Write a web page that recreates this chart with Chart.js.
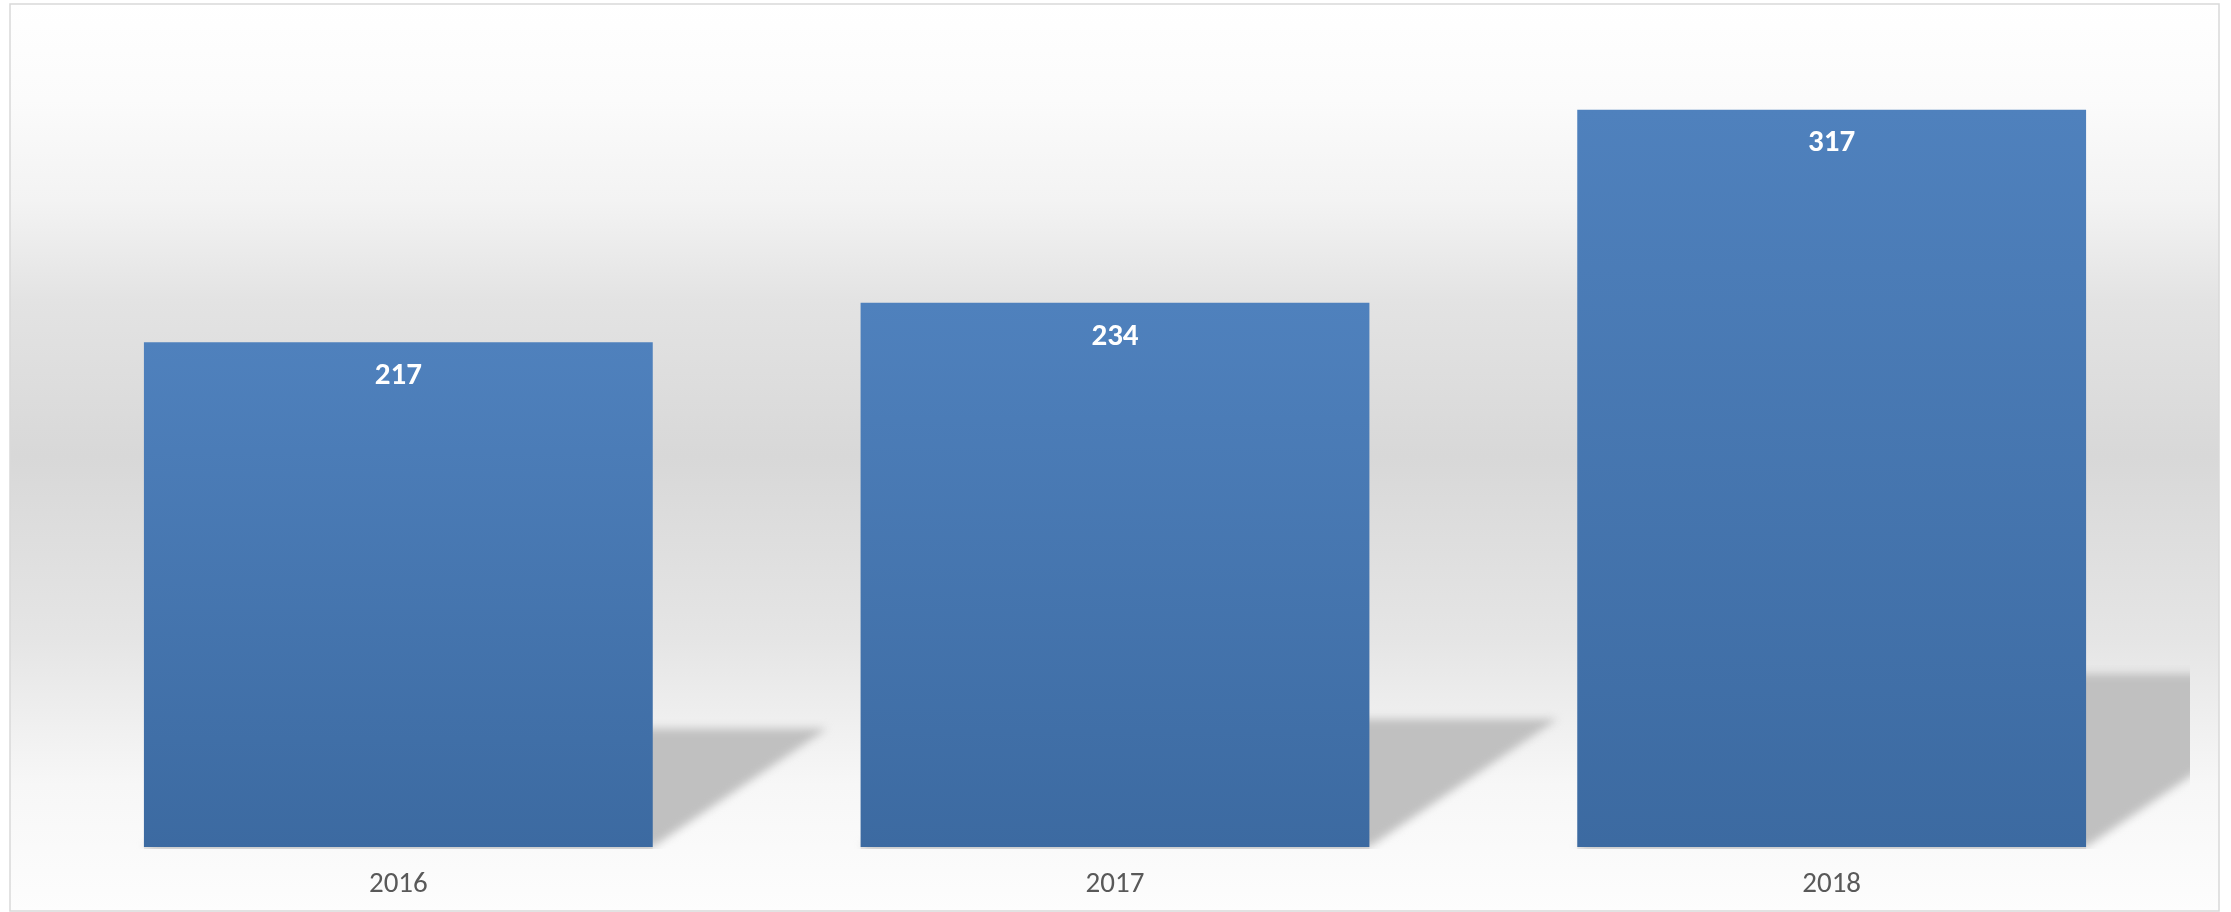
<!DOCTYPE html>
<html lang="en">
<head>
    <meta charset="UTF-8">
    <title>Bar chart</title>
    <style>
        html, body { margin: 0; padding: 0; background: #ffffff; }
        .box-grafico { width: 2231px; height: 912px; position: relative; }
    </style>
</head>
<body>
    <div class="box-grafico">
        <canvas id="GraficoBarra"></canvas>
    </div>
</body>
<script src="https://cdn.jsdelivr.net/npm/chart.js"></script>
<script>

    const anos = ['2016', '2017', '2018'];
    const valores = [217, 234, 317];
    const eixoMax = 350;

    // moldura + fundo em degradê cinza
    const fundo = {
        id: 'fundo',
        beforeDraw: (chart) => {
            const { ctx, width, height } = chart;
            ctx.save();
            const g = ctx.createLinearGradient(0, 0, 0, height);
            g.addColorStop(0, '#ffffff');
            g.addColorStop(0.11, '#fbfbfb');
            g.addColorStop(0.22, '#f3f3f3');
            g.addColorStop(0.33, '#e3e3e3');
            g.addColorStop(0.5, '#d8d8d8');
            g.addColorStop(0.7, '#e5e5e5');
            g.addColorStop(0.86, '#f7f7f7');
            g.addColorStop(1, '#fdfdfd');
            ctx.fillStyle = '#ffffff';
            ctx.fillRect(0, 0, width, height);
            ctx.fillStyle = g;
            ctx.fillRect(10, 4, 2209, height - 5);
            ctx.strokeStyle = '#d9d9d9';
            ctx.lineWidth = 1.5;
            ctx.strokeRect(10, 4, 2209, height - 5);
            ctx.restore();
        }
    };

    // sombra em perspectiva atrás de cada barra
    const sombra = {
        id: 'sombra',
        beforeDatasetsDraw: (chart) => {
            const { ctx, chartArea } = chart;
            const meta = chart.getDatasetMeta(0);
            ctx.save();
            ctx.beginPath();
            ctx.rect(chartArea.left, chartArea.top, chartArea.right - chartArea.left, chartArea.bottom - chartArea.top + 2);
            ctx.clip();
            ctx.filter = 'blur(4px)';
            ctx.fillStyle = '#c0c0c0';
            meta.data.forEach((bar) => {
                const h = bar.base - bar.y;
                const k = h * 0.235;
                const s = k * 1.47;
                const L = bar.x - bar.width / 2;
                const R = bar.x + bar.width / 2;
                ctx.beginPath();
                ctx.moveTo(L, bar.base);
                ctx.lineTo(R, bar.base);
                ctx.lineTo(R + s, bar.base - k);
                ctx.lineTo(L + s, bar.base - k);
                ctx.closePath();
                ctx.fill();
            });
            ctx.filter = 'none';
            ctx.fillStyle = 'rgba(0,0,0,0.07)';
            meta.data.forEach((bar) => {
                ctx.fillRect(bar.x - bar.width / 2, bar.base, bar.width, 2);
            });
            ctx.restore();
        }
    };

    // valores dentro do topo das barras
    const rotulos = {
        id: 'rotulos',
        afterDatasetsDraw: (chart) => {
            const { ctx } = chart;
            const meta = chart.getDatasetMeta(0);
            ctx.save();
            ctx.fillStyle = '#ffffff';
            ctx.font = 'bold 31px Carlito, Lato, sans-serif';
            ctx.textAlign = 'center';
            ctx.textBaseline = 'middle';
            meta.data.forEach((bar, i) => {
                ctx.fillText(valores[i], bar.x, bar.y + 34);
            });
            ctx.restore();
        }
    };

    const corBarra = (c) => {
        const chart = c.chart;
        const y = chart.scales.y;
        if (!y || !chart.chartArea) return '#4675b0';
        const topo = y.getPixelForValue(c.raw);
        const base = y.getPixelForValue(0);
        const g = chart.ctx.createLinearGradient(0, topo, 0, base);
        g.addColorStop(0, '#4f81bd');
        g.addColorStop(1, '#3c6aa1');
        return g;
    };

    const graBarra = document.getElementById('GraficoBarra');

    new Chart(graBarra, {
        type: 'bar',
        data: {
            labels: anos,
            datasets: [{
                data: valores,
                backgroundColor: corBarra,
                borderWidth: 0,
                barPercentage: 0.71,
                categoryPercentage: 1
            }]
        },
        options: {
            responsive: true,
            maintainAspectRatio: false,
            animation: false,
            layout: {
                padding: { left: 40, right: 41, top: 33, bottom: 0 }
            },
            plugins: {
                legend: { display: false },
                tooltip: { enabled: false }
            },
            scales: {
                x: {
                    grid: { display: false, drawTicks: false },
                    border: { display: false },
                    afterFit: (scale) => { scale.height = 65; },
                    ticks: {
                        color: '#595959',
                        padding: 20,
                        font: { family: 'Carlito, Lato, sans-serif', size: 29 }
                    }
                },
                y: {
                    display: false,
                    min: 0,
                    max: eixoMax
                }
            }
        },
        plugins: [fundo, sombra, rotulos]
    });
</script>
</html>
